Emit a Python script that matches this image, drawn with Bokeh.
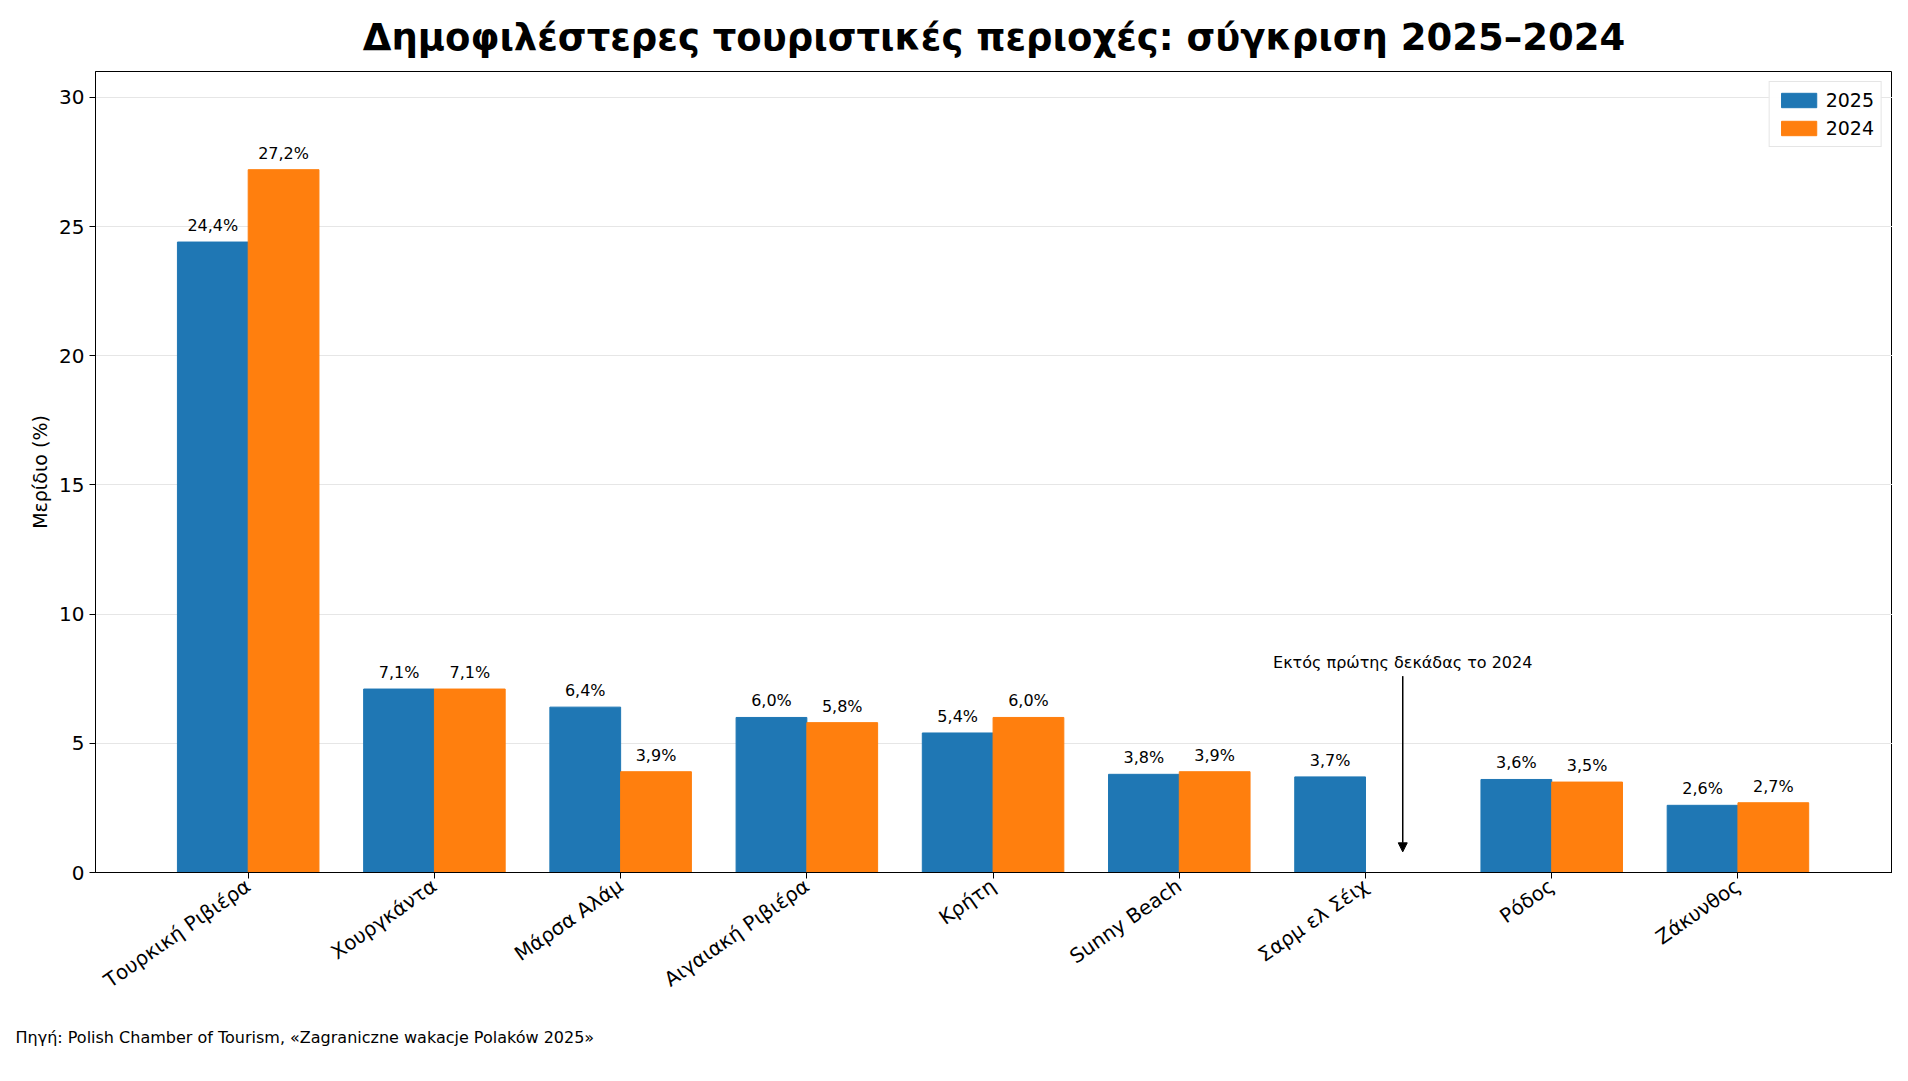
import math
from bokeh.plotting import figure
from bokeh.models import ColumnDataSource, Arrow, NormalHead, Label, Title, Legend, LegendItem, FixedTicker
from bokeh.embed import file_html
from bokeh.resources import INLINE

categories = ["Τουρκική Ριβιέρα", "Χουργκάντα", "Μάρσα Αλάμ", "Αιγαιακή Ριβιέρα", "Κρήτη",
              "Sunny Beach", "Σαρμ ελ Σέιχ", "Ρόδος", "Ζάκυνθος"]
v2025 = [24.4, 7.1, 6.4, 6.0, 5.4, 3.8, 3.7, 3.6, 2.6]
v2024 = [27.2, 7.1, 3.9, 5.8, 6.0, 3.9, float("nan"), 3.5, 2.7]

FONT = "DejaVu Sans"
C1, C2 = "#1f77b4", "#ff7f0e"
W = 0.38

p = figure(width=1892, height=1066, x_range=(-0.82, 8.83), y_range=(0, 31),
           output_backend="svg", toolbar_location=None,
           min_border_left=95, min_border_right=0, min_border_bottom=10)
p.title.text = "Δημοφιλέστερες τουριστικές περιοχές: σύγκριση 2025–2024"
p.title.align = "center"
p.title.text_font = FONT
p.title.text_font_size = "37px"
p.title.text_font_style = "bold"
p.title.text_color = "black"
p.title.offset = 0
p.title.standoff = 26

xs = list(range(len(categories)))
s1 = ColumnDataSource(dict(x=[x - W/2 for x in xs], y=v2025,
                           lab=[f"{v:.1f}%".replace(".", ",") for v in v2025]))
x2 = [x + W/2 for x, v in zip(xs, v2024) if not math.isnan(v)]
y2 = [v for v in v2024 if not math.isnan(v)]
s2 = ColumnDataSource(dict(x=x2, y=y2, lab=[f"{v:.1f}%".replace(".", ",") for v in y2]))

r1 = p.vbar(x="x", top="y", width=W, source=s1, color=C1)
r2 = p.vbar(x="x", top="y", width=W, source=s2, color=C2)
for s in (s1, s2):
    p.text(x="x", y="y", text="lab", source=s, text_align="center", text_baseline="bottom",
           y_offset=-7, text_font_size="16px", text_font={"value": FONT}, text_color="black")

p.xaxis.ticker = FixedTicker(ticks=xs)
p.xaxis.major_label_overrides = {i: c for i, c in enumerate(categories)}
p.xaxis.major_label_orientation = 0.61
p.yaxis.ticker = FixedTicker(ticks=[0, 5, 10, 15, 20, 25, 30])
p.yaxis.axis_label = "Μερίδιο (%)"
for ax in (p.xaxis, p.yaxis):
    ax.major_label_text_font = FONT
    ax.major_label_text_font_size = "20px"
    ax.major_label_text_color = "black"
    ax.axis_label_text_font = FONT
    ax.axis_label_text_font_size = "19px"
    ax.axis_label_text_font_style = "normal"
    ax.axis_label_text_color = "black"
    ax.minor_tick_line_color = None
    ax.major_tick_out = 6
    ax.major_tick_in = 0
    ax.axis_line_color = "black"
    ax.major_tick_line_color = "black"
p.xgrid.grid_line_color = None
p.ygrid.grid_line_color = "#e6e6e6"
p.outline_line_color = "black"

p.add_layout(Arrow(end=NormalHead(size=9, fill_color="black"), x_start=6.2, y_start=7.6,
                   x_end=6.2, y_end=0.8, line_width=1.5))
p.add_layout(Label(x=6.2, y=7.75, text="Εκτός πρώτης δεκάδας το 2024", text_align="center",
                   text_font=FONT, text_font_size="16px", text_color="black"))

legend = Legend(items=[LegendItem(label="2025", renderers=[r1]), LegendItem(label="2024", renderers=[r2])],
                location="top_right", label_text_font=FONT, label_text_font_size="19px",
                label_text_color="black",
                border_line_color="#cccccc", glyph_width=44, glyph_height=18, spacing=6, padding=7)
p.add_layout(legend)

p.add_layout(Title(text="Πηγή: Polish Chamber of Tourism, «Zagraniczne wakacje Polaków 2025»",
                   align="left", text_font=FONT, text_font_size="16px", text_font_style="normal",
                   text_color="black", offset=-80, standoff=40), "below")

open("out.html", "w").write(file_html(p, INLINE))
